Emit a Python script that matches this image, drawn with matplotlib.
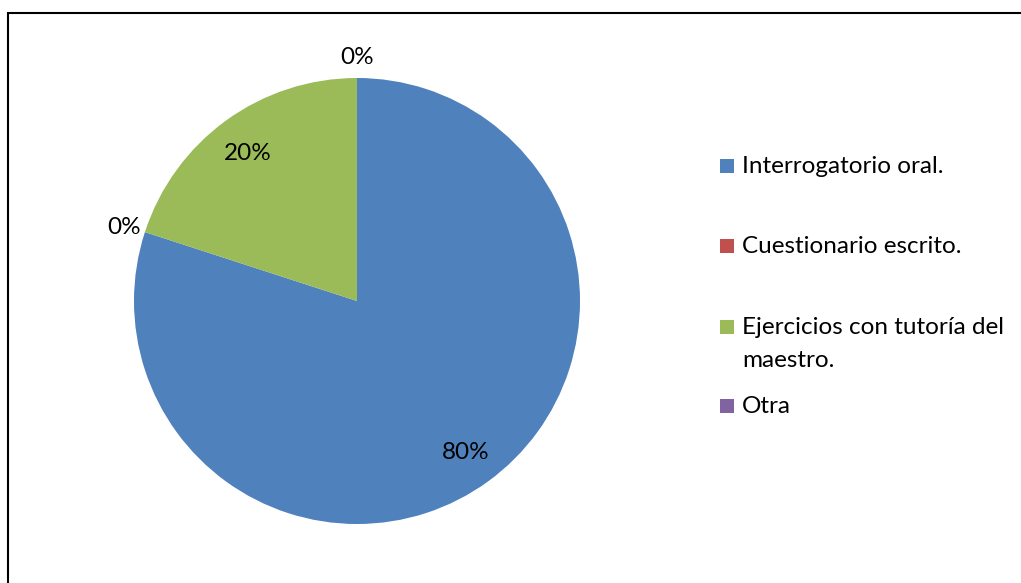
import numpy as np
import matplotlib
matplotlib.use("Agg")
import matplotlib.pyplot as plt
from matplotlib.patches import Rectangle

# data
categories = ["Interrogatorio oral.", "Cuestionario escrito.",
              "Ejercicios con tutoría del\nmaestro.", "Otra"]
values = [80, 0, 20, 0]
colors = ["#4F81BD", "#C0504D", "#9BBB59", "#8064A2"]

plt.rcParams['font.family'] = ['Lato', 'DejaVu Sans']
W, H = 1021, 583
FS = 17.5
fig = plt.figure(figsize=(W / 100, H / 100), dpi=100)

# outer chart frame (right/bottom run off the picture)
fig.patches.append(Rectangle((8 / W, -0.05), 1.2, (H - 13) / H + 0.05,
                             transform=fig.transFigure, fill=False,
                             edgecolor="black", linewidth=1.5))

# pie: centre (357, 301) px, radius 223 px
cx, cy, r = 357, 301, 223
ax = fig.add_axes([(cx - r) / W, (H - cy - r) / H, 2 * r / W, 2 * r / H])
wedges, _ = ax.pie(values, colors=colors, startangle=90, counterclock=False,
                   wedgeprops=dict(linewidth=0))
ax.set_xlim(-1, 1)
ax.set_ylim(-1, 1)

# percentage labels: inside for real slices, just outside for empty ones
total = sum(values)
for w, v in zip(wedges, values):
    mid = np.deg2rad((w.theta1 + w.theta2) / 2)
    dist = 0.83 if v > 0 else 1.1
    ax.text(dist * np.cos(mid), dist * np.sin(mid), f"{v / total:.0%}",
            ha="center", va="center_baseline", fontsize=FS)

# legend drawn by hand so that the wrapped entry sits like the original
baselines = [173, 253, 334, 413]
line_gap = 33
for lab, col, yb in zip(categories, colors, baselines):
    fig.patches.append(Rectangle((720 / W, (H - yb) / H), 14 / W, 14 / H,
                                 transform=fig.transFigure, facecolor=col,
                                 edgecolor="none"))
    for k, line in enumerate(lab.split("\n")):
        fig.text(742 / W, (H - yb - k * line_gap) / H, line, ha="left",
                 va="baseline", fontsize=FS)

fig.savefig("out.png", dpi=100)
